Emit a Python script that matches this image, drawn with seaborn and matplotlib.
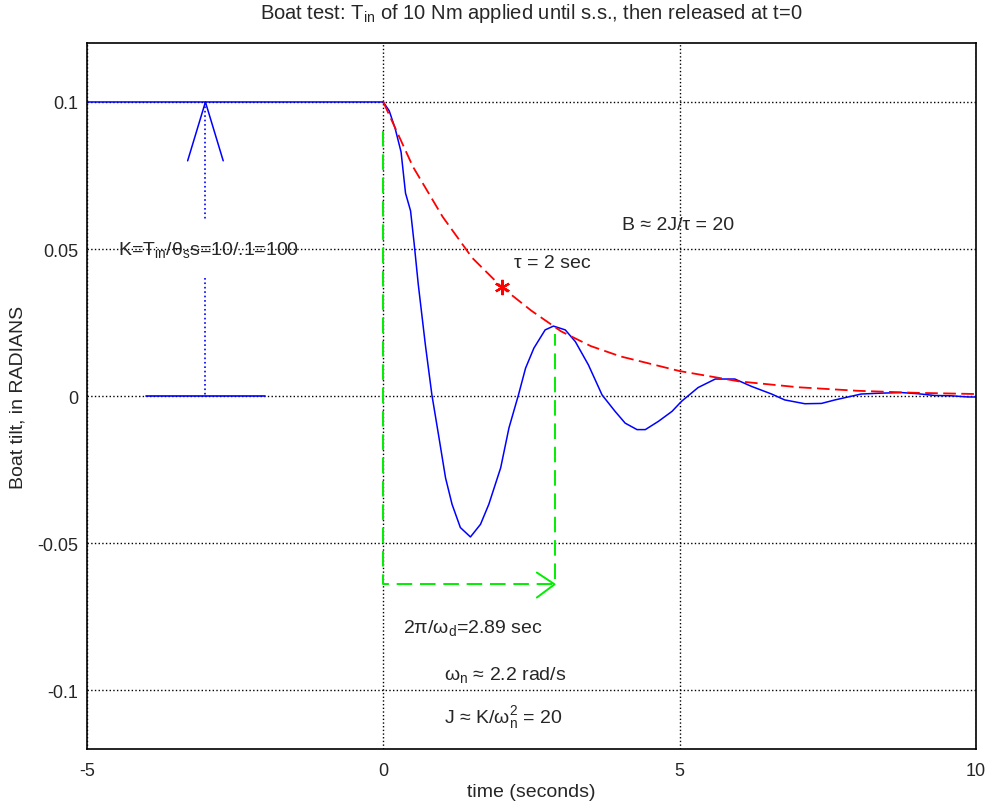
import numpy as np
import pandas as pd
import matplotlib.pyplot as plt
import seaborn as sns

t_resp = [-5, 0, 0.1, 0.2, 0.3, 0.375, 0.46, 0.52, 0.59, 0.71, 0.82, 0.94, 1.05, 1.16, 1.30,
          1.47, 1.64, 1.78, 1.98, 2.12, 2.28, 2.40, 2.54, 2.73, 2.87, 3.07, 3.24, 3.46,
          3.69, 3.91, 4.08, 4.28, 4.42, 4.64, 4.87, 5.03, 5.31, 5.60, 5.93, 6.21, 6.55,
          6.77, 7.11, 7.39, 7.62, 8.06, 8.40, 8.74, 9.02, 9.30, 9.58, 9.86, 10]
y_resp = [0.1, 0.1, 0.097, 0.091, 0.083, 0.069, 0.063, 0.052, 0.038, 0.0174, 0.0004,
          -0.0142, -0.0278, -0.0368, -0.0447, -0.0479, -0.0436, -0.0368, -0.0244, -0.0108,
          0.0004, 0.0095, 0.0163, 0.0225, 0.0238, 0.0225, 0.0185, 0.0106, 0.0004, -0.0052,
          -0.0092, -0.0114, -0.0114, -0.0086, -0.0052, -0.0018, 0.0029, 0.0058, 0.0058,
          0.0033, 0.0007, -0.0013, -0.0026, -0.0025, -0.0013, 0.0007, 0.0010, 0.0012,
          0.0008, 0.0002, 0.0001, -0.0003, -0.0003]

# red dashed envelope
t_env = [0, 0.5, 1, 1.5, 2, 2.5, 3, 3.5, 4, 5, 6, 7, 8, 9, 10]
y_env = [0.1, 0.078, 0.061, 0.047, 0.037, 0.029, 0.022, 0.017, 0.0135, 0.0085,
         0.005, 0.003, 0.0018, 0.0011, 0.0007]
tau_pt = (2.0, 0.0372)

# green period marker
period = 2.89
y_period = -0.064

sns.set_style("white")
plt.rcParams['font.family'] = ['Liberation Sans', 'DejaVu Sans']
plt.rcParams['mathtext.fontset'] = 'custom'
plt.rcParams['mathtext.rm'] = 'Liberation Sans'
plt.rcParams['mathtext.it'] = 'Liberation Sans'

fig = plt.figure(figsize=(9.87, 8.03), dpi=100)
ax = fig.add_axes([0.088, 0.066, 0.901, 0.879])

ax.set_xlim(-5, 10)
ax.set_ylim(-0.12, 0.12)
ax.set_xticks([-5, 0, 5, 10])
ax.set_yticks([-0.1, -0.05, 0, 0.05, 0.1])
ax.set_xticklabels(['-5', '0', '5', '10'])
ax.set_yticklabels(['-0.1', '-0.05', '0', '0.05', '0.1'])
ax.grid(True, color='black', linestyle=':', linewidth=1)
ax.tick_params(direction='in', length=4, labelsize=13, color='black')
ax.tick_params(axis='y', pad=6)
ax.tick_params(axis='x', pad=9)
for s in ax.spines.values():
    s.set_color('black')
    s.set_linewidth(1.2)

resp = pd.DataFrame({'t': t_resp, 'y': y_resp})
env = pd.DataFrame({'t': t_env, 'y': y_env})
sns.lineplot(data=resp, x='t', y='y', color='blue', linewidth=1.1, sort=False,
             estimator=None, ax=ax)
sns.lineplot(data=env, x='t', y='y', color='red', linewidth=1.3, linestyle=(0, (7, 3)),
             sort=False, estimator=None, ax=ax)
ax.plot([tau_pt[0]], [tau_pt[1]], marker=(6, 2, 0), color='red', markersize=11,
        markeredgewidth=1.6, linestyle='none')

# K arrow (blue)
ax.plot([-3, -3], [0.1, 0.06], color='blue', linestyle=':', linewidth=1.2)
ax.plot([-3, -3], [0.04, 0], color='blue', linestyle=':', linewidth=1.2)
ax.plot([-3.3, -3, -2.7], [0.08, 0.1, 0.08], color='blue', linewidth=1.1)
ax.plot([-4, -2], [0, 0], color='blue', linewidth=1.2)

# period arrow (green)
gkw = dict(color='#00ee00', linestyle=(0, (8, 4)), linewidth=1.4)
ax.plot([0, 0, period, period], [0.09, y_period, y_period, 0.021], **gkw)
ax.plot([period - 0.3, period, period - 0.3], [-0.06, y_period, -0.0685],
        color='#00ee00', linewidth=1.4)

fs = 14
ax.text(-4.48, 0.05, r'K=T$_{\rm in}$/θ$_{\rm s}$s=10/.1=100', fontsize=fs, va='center')
ax.text(4.02, 0.0583, 'B ≈ 2J/τ = 20', fontsize=fs, va='center')
ax.text(2.2, 0.0455, 'τ = 2 sec', fontsize=fs, va='center')
ax.text(0.33, -0.0786, r'2π/ω$_{\rm d}$=2.89 sec', fontsize=fs, va='center')
ax.text(1.02, -0.0944, r'ω$_{\rm n}$ ≈ 2.2 rad/s', fontsize=fs, va='center')
ax.text(1.02, -0.109, r'J ≈ K/ω$_{\rm n}^{2}$ = 20', fontsize=fs, va='center')

ax.set_title(r'Boat test: T$_{\rm in}$ of 10 Nm applied until s.s., then released at t=0',
             fontsize=14.5, pad=18)
ax.set_xlabel('time (seconds)', fontsize=14, labelpad=3)
ax.set_ylabel('Boat tilt, in RADIANS', fontsize=14, labelpad=8)

fig.savefig('out.png', dpi=100)
